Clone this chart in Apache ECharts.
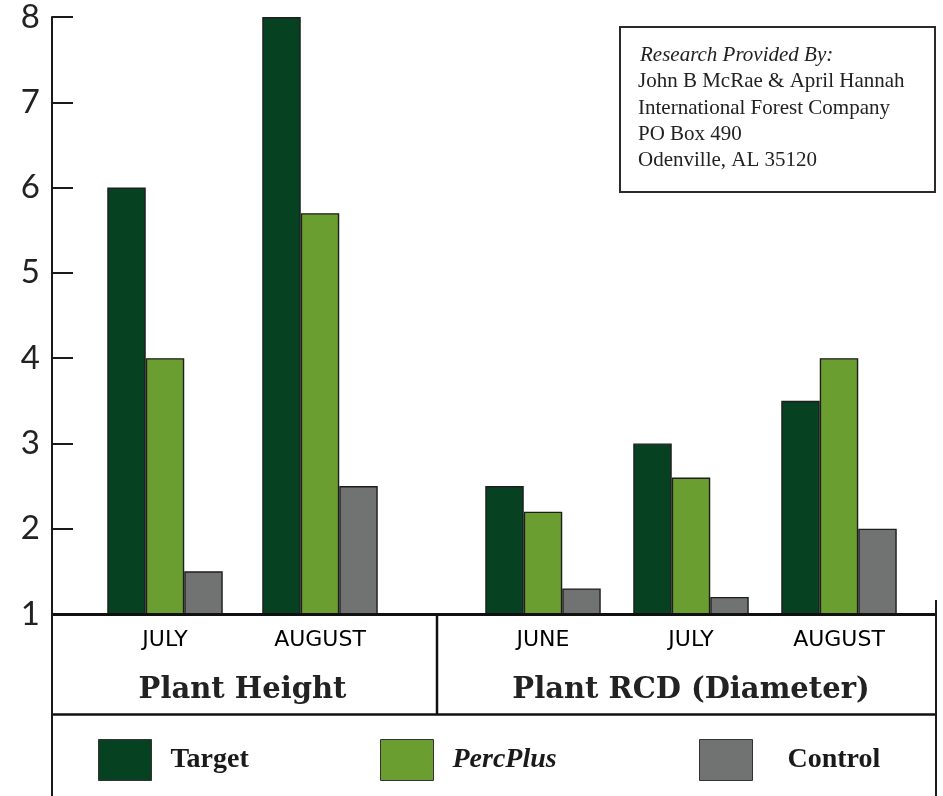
<!DOCTYPE html>
<html>
<head>
<meta charset="utf-8">
<script src="https://cdn.jsdelivr.net/npm/echarts@6/dist/echarts.min.js"></script>
<style>
  html, body { margin: 0; padding: 0; background: #fff; }
  #main { width: 943px; height: 796px; }
</style>
</head>
<body>
<div id="main"></div>
<script>
var heightMonths = ['JULY', 'AUGUST'];
var rcdMonths = ['JUNE', 'JULY', 'AUGUST'];
var seriesNames = ['Target', 'PercPlus', 'Control'];
var seriesColors = ['#064122', '#6b9e31', '#717372'];
// values per series, for each month
var heightValues = [
    [6, 8],      // Target
    [4, 5.7],    // PercPlus
    [1.5, 2.5]   // Control
];
var rcdValues = [
    [2.5, 3, 3.5],
    [2.2, 2.6, 4],
    [1.3, 1.2, 2]
];
var groupNames = ['Plant Height', 'Plant RCD (Diameter)'];
var infoLines = [
    'Research Provided By:',
    'John B McRae & April Hannah',
    'International Forest Company',
    'PO Box 490',
    'Odenville, AL 35120'
];

var chartDom = document.getElementById('main');
var myChart = echarts.init(chartDom);
var option;

var monthLabel = {
    fontFamily: 'DejaVu Sans',
    fontSize: 22,
    color: '#000',
    margin: 15
};
var groupName = {
    fontFamily: 'DejaVu Serif',
    fontWeight: 'bold',
    fontSize: 29,
    color: '#222'
};

var series = [];
seriesNames.forEach(function (name, i) {
    series.push({
        name: name,
        type: 'bar',
        xAxisIndex: 0,
        yAxisIndex: 0,
        barWidth: 38.5,
        barGap: '0%',
        itemStyle: { color: seriesColors[i], borderColor: '#1e1e1e', borderWidth: 1.4 },
        data: heightValues[i]
    });
});
seriesNames.forEach(function (name, i) {
    series.push({
        name: name,
        type: 'bar',
        xAxisIndex: 1,
        yAxisIndex: 1,
        barWidth: 38.5,
        barGap: '0%',
        itemStyle: { color: seriesColors[i], borderColor: '#1e1e1e', borderWidth: 1.4 },
        data: rcdValues[i]
    });
});

function legendAt(name, left, textStyle) {
    return {
        data: [name],
        left: left,
        top: 739,
        padding: 0,
        itemWidth: 53,
        itemHeight: 41,
        icon: 'rect',
        selectedMode: false,
        itemStyle: { borderColor: '#333', borderWidth: 1 },
        textStyle: Object.assign({
            fontFamily: 'Liberation Serif',
            fontWeight: 'bold',
            fontSize: 28,
            color: '#1a1a1a',
            padding: [5, 0, 0, 14]
        }, textStyle)
    };
}

var infoTexts = infoLines.map(function (line, i) {
    return {
        type: 'text',
        left: i === 0 ? 640 : 638,
        top: 45 + i * 26.3,
        z: 11,
        style: {
            text: line,
            fontFamily: 'Liberation Serif',
            fontStyle: i === 0 ? 'italic' : 'normal',
            fontSize: 21,
            fill: '#222'
        }
    };
});

option = {
    backgroundColor: '#fff',
    animation: false,
    grid: [
        { left: 87.5, width: 310, top: 17, bottom: 182 },
        { left: 469, width: 444, top: 17, bottom: 182 }
    ],
    xAxis: [{
        type: 'category',
        gridIndex: 0,
        data: heightMonths,
        axisLine: { show: false },
        axisTick: { show: false },
        axisLabel: monthLabel,
        name: groupNames[0],
        nameLocation: 'middle',
        nameGap: 62,
        nameTextStyle: groupName
    }, {
        type: 'category',
        gridIndex: 1,
        data: rcdMonths,
        axisLine: { show: false },
        axisTick: { show: false },
        axisLabel: monthLabel,
        name: groupNames[1],
        nameLocation: 'middle',
        nameGap: 62,
        nameTextStyle: groupName
    }],
    yAxis: [{
        type: 'value',
        gridIndex: 0,
        min: 1,
        max: 8,
        interval: 1,
        offset: 35.5,
        axisLine: { show: true, lineStyle: { color: '#1a1a1a', width: 2 } },
        axisTick: { show: true, inside: true, length: 21, lineStyle: { color: '#1a1a1a', width: 2 } },
        axisLabel: {
            fontFamily: 'Lato',
            fontSize: 33,
            color: '#222',
            margin: 12,
            padding: [9, 0, 0, 0]
        },
        splitLine: { show: false }
    }, {
        type: 'value',
        gridIndex: 1,
        min: 1,
        max: 8,
        interval: 1,
        show: false,
        splitLine: { show: false }
    }],
    legend: [
        legendAt('Target', 98, {}),
        legendAt('PercPlus', 380, { fontStyle: 'italic' }),
        legendAt('Control', 699, { padding: [5, 0, 0, 30] })
    ],
    graphic: [
        // table lines below the bars
        { type: 'line', shape: { x1: 52, y1: 614.5, x2: 937, y2: 614.5 }, style: { stroke: '#111', lineWidth: 3 }, z: 10 },
        { type: 'line', shape: { x1: 52, y1: 714.5, x2: 937, y2: 714.5 }, style: { stroke: '#111', lineWidth: 2.5 }, z: 10 },
        { type: 'line', shape: { x1: 437, y1: 614, x2: 437, y2: 714 }, style: { stroke: '#111', lineWidth: 2.5 }, z: 10 },
        { type: 'line', shape: { x1: 52, y1: 612, x2: 52, y2: 796 }, style: { stroke: '#1a1a1a', lineWidth: 2 }, z: 10 },
        { type: 'line', shape: { x1: 936, y1: 600, x2: 936, y2: 796 }, style: { stroke: '#1a1a1a', lineWidth: 2 }, z: 10 },
        // info box
        { type: 'rect', shape: { x: 620, y: 27, width: 315, height: 165 }, style: { fill: '#fff', stroke: '#2a2a2a', lineWidth: 2 }, z: 10 }
    ].concat(infoTexts),
    series: series
};

option && myChart.setOption(option);
</script>
</body>
</html>
